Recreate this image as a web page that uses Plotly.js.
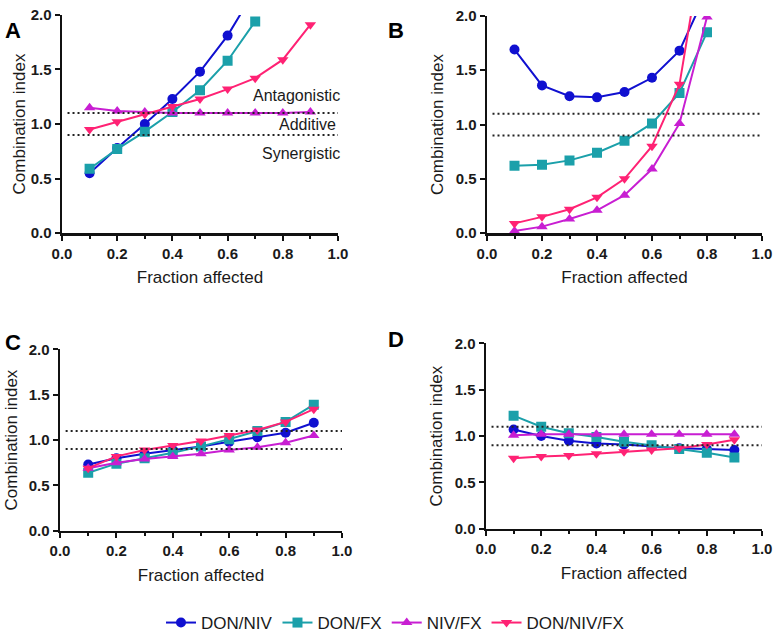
<!DOCTYPE html>
<html>
<head>
<meta charset="utf-8">
<script src="https://cdn.plot.ly/plotly-3.0.1.min.js"></script>
<style>
  html, body { margin: 0; padding: 0; background: #fff; }
  #chart { width: 776px; height: 641px; }
</style>
</head>
<body>
<div id="chart"></div>
<script>
// fraction affected
var fa = [0.1, 0.2, 0.3, 0.4, 0.5, 0.6, 0.7, 0.8, 0.9];

// panel A
var A_donNiv   = [0.55, 0.78, 1.00, 1.23, 1.48, 1.81, 2.23];
var A_donFx    = [0.59, 0.77, 0.93, 1.11, 1.31, 1.58, 1.94];
var A_nivFx    = [1.15, 1.12, 1.11, 1.10, 1.10, 1.10, 1.10, 1.10, 1.11];
var A_donNivFx = [0.95, 1.02, 1.09, 1.16, 1.23, 1.32, 1.42, 1.59, 1.91];

// panel B
var B_donNiv   = [1.69, 1.36, 1.26, 1.25, 1.30, 1.43, 1.68, 2.23];
var B_donFx    = [0.62, 0.63, 0.67, 0.74, 0.85, 1.01, 1.29, 1.85];
var B_nivFx    = [0.02, 0.06, 0.13, 0.21, 0.35, 0.59, 1.01, 1.99];
var B_donNivFx = [0.09, 0.15, 0.22, 0.33, 0.50, 0.80, 1.37, 2.9];

// panel C
var C_donNiv   = [0.73, 0.80, 0.85, 0.89, 0.93, 0.98, 1.03, 1.08, 1.19];
var C_donFx    = [0.64, 0.74, 0.80, 0.86, 0.93, 1.01, 1.10, 1.20, 1.39];
var C_nivFx    = [0.69, 0.75, 0.79, 0.82, 0.85, 0.89, 0.92, 0.97, 1.05];
var C_donNivFx = [0.69, 0.82, 0.89, 0.94, 0.99, 1.05, 1.11, 1.20, 1.34];

// panel D
var D_donNiv   = [1.07, 1.00, 0.95, 0.92, 0.91, 0.89, 0.87, 0.86, 0.85];
var D_donFx    = [1.22, 1.10, 1.03, 0.99, 0.94, 0.90, 0.86, 0.82, 0.77];
var D_nivFx    = [1.01, 1.02, 1.02, 1.02, 1.02, 1.02, 1.02, 1.02, 1.02];
var D_donNivFx = [0.76, 0.78, 0.79, 0.81, 0.83, 0.85, 0.87, 0.91, 0.96];

var seriesNames = ['DON/NIV', 'DON/FX', 'NIV/FX', 'DON/NIV/FX'];
var seriesColors = ['#1010d0', '#1ba0aa', '#c81ed2', '#ff2274'];
var seriesSymbols = ['circle', 'square', 'triangle-up', 'triangle-down'];

var panels = [
  { ax: '',  data: [A_donNiv, A_donFx, A_nivFx, A_donNivFx] },
  { ax: '2', data: [B_donNiv, B_donFx, B_nivFx, B_donNivFx] },
  { ax: '3', data: [C_donNiv, C_donFx, C_nivFx, C_donNivFx] },
  { ax: '4', data: [D_donNiv, D_donFx, D_nivFx, D_donNivFx] }
];

var W = 776, H = 641;
function px(x) { return x / W; }
function py(y) { return 1 - y / H; }

var traces = [];
panels.forEach(function (p, k) {
  for (var i = 0; i < 4; i++) {
    var ys = p.data[i];
    traces.push({
      type: 'scatter',
      mode: 'lines+markers',
      name: seriesNames[i],
      legendgroup: seriesNames[i],
      showlegend: k == 0,
      x: fa.slice(0, ys.length),
      y: ys,
      xaxis: 'x' + p.ax,
      yaxis: 'y' + p.ax,
      line: { color: seriesColors[i], width: 2 },
      marker: { color: seriesColors[i], symbol: seriesSymbols[i], size: 10 }
    });
  }
});

var fam = 'Arial, Liberation Sans, sans-serif';
var tickFont = { family: fam, size: 15, color: '#1a1a1a', weight: 'bold' };
var titleFont = { family: fam, size: 17, color: '#1a1a1a' };

function xAxis(dom, anchor) {
  return {
    domain: dom, anchor: anchor, range: [0, 1],
    tickvals: [0, 0.2, 0.4, 0.6, 0.8, 1.0], tickformat: '.1f',
    ticks: 'outside', ticklen: 5, tickwidth: 2, tickcolor: '#111',
    minor: { tickvals: [0.1, 0.3, 0.5, 0.7, 0.9], ticks: 'outside', ticklen: 3, tickwidth: 2, tickcolor: '#111' },
    showline: true, linewidth: 2.5, linecolor: '#111',
    showgrid: false, zeroline: false, tickfont: tickFont,
    title: { text: 'Fraction affected', font: titleFont, standoff: 11 }
  };
}
function yAxis(dom, anchor, standoff) {
  return {
    domain: dom, anchor: anchor, range: [0, 2],
    tickvals: [0, 0.5, 1.0, 1.5, 2.0], tickformat: '.1f',
    ticks: 'outside', ticklen: 5, tickwidth: 2, tickcolor: '#111',
    showline: true, linewidth: 2.5, linecolor: '#111',
    showgrid: false, zeroline: false, tickfont: tickFont,
    title: { text: 'Combination index', font: titleFont, standoff: standoff }
  };
}

// dotted additive band lines
var shapes = [];
panels.forEach(function (p) {
  [1.1, 0.9].forEach(function (v) {
    shapes.push({
      type: 'line', xref: 'x' + p.ax, yref: 'y' + p.ax,
      x0: 0.02, x1: 1.0, y0: v, y1: v,
      line: { color: '#222', width: 2, dash: '2px,3px' }
    });
  });
});

var annFont = { family: fam, size: 16, color: '#1a1a1a' };
var letterFont = { family: fam, size: 22, color: '#000', weight: 'bold' };
var annotations = [
  { text: 'Antagonistic', xref: 'x', yref: 'y', x: 1.0, y: 1.26, xanchor: 'right', xshift: 4, showarrow: false, font: annFont },
  { text: 'Additive', xref: 'x', yref: 'y', x: 1.0, y: 1.0, xanchor: 'right', showarrow: false, font: annFont },
  { text: 'Synergistic', xref: 'x', yref: 'y', x: 1.0, y: 0.73, xanchor: 'right', xshift: 4, showarrow: false, font: annFont },
  { text: 'A', xref: 'paper', yref: 'paper', x: px(3), y: py(16), xanchor: 'left', showarrow: false, font: letterFont },
  { text: 'B', xref: 'paper', yref: 'paper', x: px(386), y: py(16), xanchor: 'left', showarrow: false, font: letterFont },
  { text: 'C', xref: 'paper', yref: 'paper', x: px(3), y: py(345), xanchor: 'left', showarrow: false, font: letterFont },
  { text: 'D', xref: 'paper', yref: 'paper', x: px(386), y: py(342), xanchor: 'left', showarrow: false, font: letterFont }
];

var layout = {
  width: W, height: H,
  margin: { l: 0, r: 0, t: 0, b: 0 },
  paper_bgcolor: '#fff', plot_bgcolor: '#fff',
  font: { family: fam, color: '#1a1a1a' },
  xaxis:  xAxis([px(62), px(338)], 'y'),
  yaxis:  yAxis([py(235), py(15)], 'x', 1),
  xaxis2: xAxis([px(487), px(762)], 'y2'),
  yaxis2: yAxis([py(235), py(16)], 'x2', 8),
  xaxis3: xAxis([px(60), px(342)], 'y3'),
  yaxis3: yAxis([py(535), py(352)], 'x3', 7),
  xaxis4: xAxis([px(486), px(762)], 'y4'),
  yaxis4: yAxis([py(533), py(346)], 'x4', 8),
  shapes: shapes,
  annotations: annotations,
  showlegend: true,
  legend: {
    orientation: 'h', x: 0.509, xanchor: 'center', y: py(628), yanchor: 'middle',
    font: { family: fam, size: 17, color: '#1a1a1a' },
    itemwidth: 30
  }
};

Plotly.newPlot('chart', traces, layout, { displayModeBar: false, staticPlot: true });
</script>
</body>
</html>
